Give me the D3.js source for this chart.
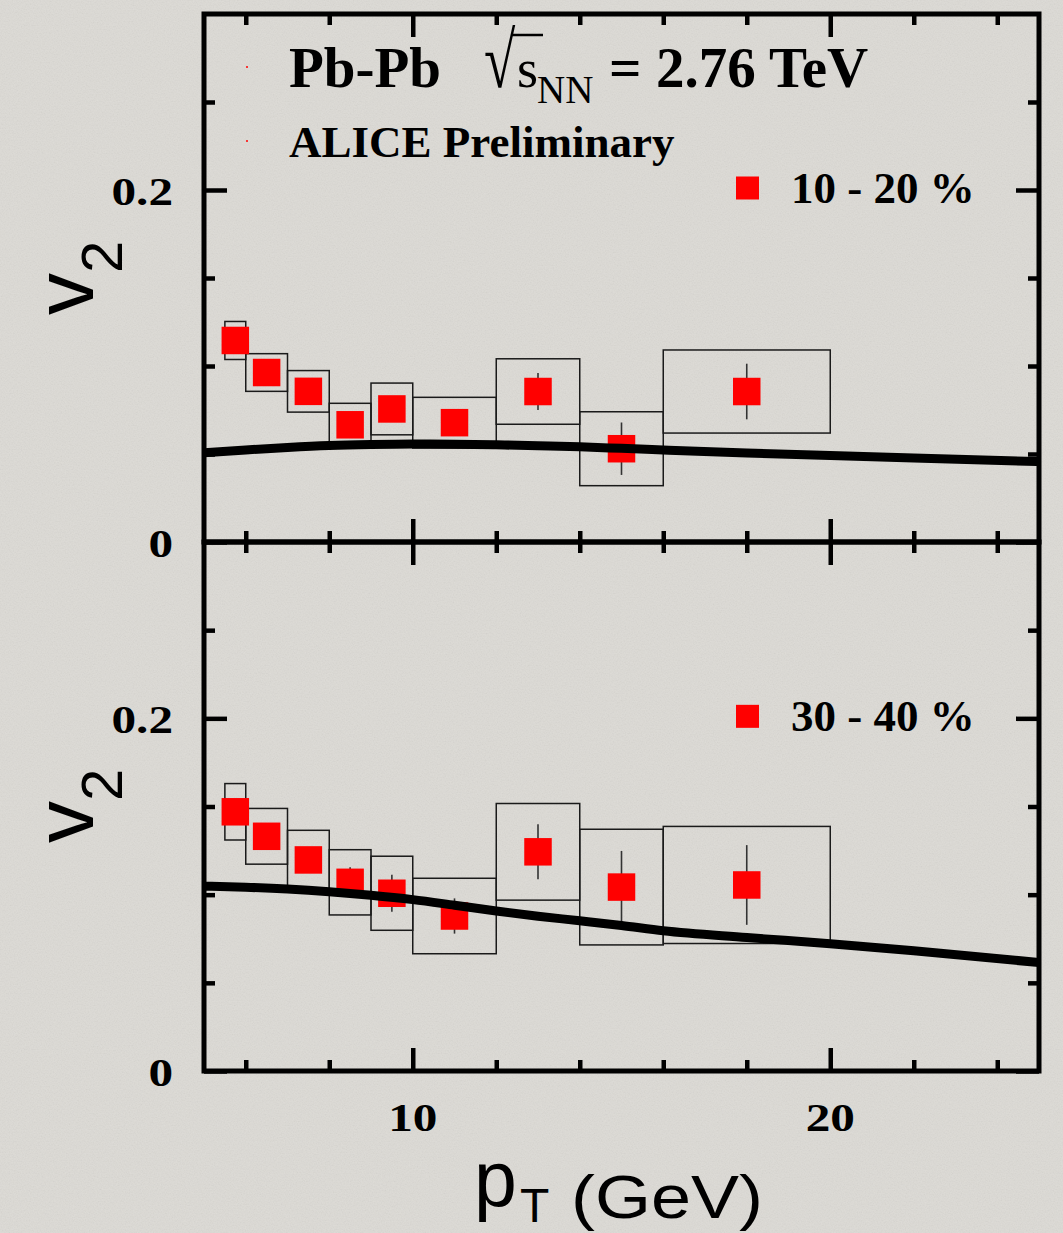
<!DOCTYPE html>
<html>
<head>
<meta charset="utf-8">
<script src="https://cdn.jsdelivr.net/npm/d3@7"></script>
<style>
  html, body { margin: 0; padding: 0; background: #dbd9d4; }
  svg { display: block; }
</style>
</head>
<body>
<script>
// pT bins of the measurement (GeV)
const ptCenters = [5.75, 6.5, 7.5, 8.5, 9.5, 11, 13, 15, 18];
const binLow    = [5.5, 6, 7, 8, 9, 10, 12, 14, 16];
const binHigh   = [6, 7, 8, 9, 10, 12, 14, 16, 20];

// v2, 10-20% centrality
const v2Central1020 = [0.1145, 0.0963, 0.0856, 0.0666, 0.0756, 0.0678, 0.0855, 0.0530, 0.0855];
const v2Stat1020    = [0.004, 0.004, 0.004, 0.005, 0.006, 0.006, 0.0105, 0.0149, 0.0158];
const v2Sys1020     = [0.0108, 0.0107, 0.0118, 0.0122, 0.0147, 0.0144, 0.0186, 0.0210, 0.0236];

// v2, 30-40% centrality
const v2Central3040 = [0.1470, 0.1331, 0.1197, 0.1070, 0.1008, 0.0879, 0.1243, 0.1043, 0.1055];
const v2Stat3040    = [0.005, 0.005, 0.005, 0.0085, 0.0105, 0.0100, 0.0156, 0.0205, 0.0226];
const v2Sys3040     = [0.0160, 0.0158, 0.0168, 0.0185, 0.0210, 0.0214, 0.0274, 0.0328, 0.0332];

// model curves
const modelPt   = [5, 6, 7, 8, 9, 10, 11, 12, 13, 14, 15, 16, 18, 20, 22, 25];
const model1020 = [0.0507, 0.0523, 0.0537, 0.0548, 0.0554, 0.0557, 0.0556, 0.0552, 0.0547, 0.0541, 0.0532, 0.0523, 0.0506, 0.0491, 0.0477, 0.0457];
const model3040 = [0.1048, 0.1042, 0.1032, 0.1017, 0.0997, 0.0972, 0.0940, 0.0907, 0.0878, 0.0852, 0.0825, 0.0795, 0.0757, 0.0722, 0.0682, 0.0615];

// axes
const xDomain = [5, 25];
const yDomain = [0, 0.3];
const xTickMajor = [10, 20];
const xTickMinor = [6, 8, 12, 14, 16, 18, 22, 24];
const xTickLabels = ["10", "20"];
const yTickMajor = [0, 0.2];
const yTickMinor = [0.05, 0.1, 0.15, 0.25];
const yTickLabels = ["0", "0.2"];

const centralityLabels = ["10 - 20 %", "30 - 40 %"];

// ---------------------------------------------------------------
const W = 1063, H = 1233;
const left = 204, right = 1039;
const panelTops = [14, 542];
const panelBottoms = [542, 1071];

const svg = d3.select("body").append("svg")
  .attr("width", W).attr("height", H);

const defs = svg.append("defs");
const grain = defs.append("filter").attr("id", "grain")
  .attr("x", 0).attr("y", 0).attr("width", "100%").attr("height", "100%");
grain.append("feTurbulence").attr("type", "fractalNoise")
  .attr("baseFrequency", "0.75").attr("numOctaves", 2).attr("seed", 7);
grain.append("feColorMatrix").attr("type", "matrix")
  .attr("values", "1 0 0 0 0  1 0 0 0 0  1 0 0 0 0  0 0 0 0 0.07");

svg.append("rect").attr("width", W).attr("height", H).attr("fill", "#dcdad5");
svg.append("rect").attr("width", W).attr("height", H).attr("filter", "url(#grain)");

const x = d3.scaleLinear().domain(xDomain).range([left, right]);

const serif = "'Liberation Serif', 'Times New Roman', serif";
const sans = "'Liberation Sans', Arial, sans-serif";

const panels = [
  { central: v2Central1020, stat: v2Stat1020, sys: v2Sys1020, model: model1020, label: centralityLabels[0] },
  { central: v2Central3040, stat: v2Stat3040, sys: v2Sys3040, model: model3040, label: centralityLabels[1] }
];

panels.forEach((p, i) => {
  const top = panelTops[i], bottom = panelBottoms[i];
  const y = d3.scaleLinear().domain(yDomain).range([bottom, top]);
  const g = svg.append("g");

  const clipId = "clip" + i;
  defs.append("clipPath").attr("id", clipId)
    .append("rect").attr("x", left).attr("y", top)
    .attr("width", right - left).attr("height", bottom - top);

  const plot = g.append("g").attr("clip-path", `url(#${clipId})`);

  // systematic boxes
  plot.selectAll("rect.sys").data(ptCenters).join("rect")
    .attr("class", "sys")
    .attr("x", (d, k) => x(binLow[k]))
    .attr("width", (d, k) => x(binHigh[k]) - x(binLow[k]))
    .attr("y", (d, k) => y(p.central[k] + p.sys[k]))
    .attr("height", (d, k) => y(p.central[k] - p.sys[k]) - y(p.central[k] + p.sys[k]))
    .attr("fill", "none").attr("stroke", "#1a1a1a").attr("stroke-width", 1.5);

  // statistical error bars
  plot.selectAll("line.stat").data(ptCenters).join("line")
    .attr("class", "stat")
    .attr("x1", d => x(d)).attr("x2", d => x(d))
    .attr("y1", (d, k) => y(p.central[k] + p.stat[k]))
    .attr("y2", (d, k) => y(p.central[k] - p.stat[k]))
    .attr("stroke", "#333").attr("stroke-width", 1.6);

  // data markers
  const ms = 27.5;
  plot.selectAll("rect.pt").data(ptCenters).join("rect")
    .attr("class", "pt")
    .attr("x", d => x(d) - ms / 2)
    .attr("y", (d, k) => y(p.central[k]) - ms / 2)
    .attr("width", ms).attr("height", ms)
    .attr("fill", "#ff0000");

  // model curve
  const line = d3.line()
    .x((d, k) => x(modelPt[k]))
    .y(d => y(d))
    .curve(d3.curveMonotoneX);
  plot.append("path").datum(p.model)
    .attr("d", line)
    .attr("fill", "none").attr("stroke", "#000").attr("stroke-width", 9);

  // ticks on all four sides, pointing inward
  const tickStyle = sel => {
    sel.select(".domain").remove();
    sel.selectAll(".tick line").attr("stroke", "#000").attr("stroke-width", 4.5);
  };
  const addX = (vals, len) => {
    g.append("g").attr("transform", `translate(0,${bottom})`)
      .call(d3.axisTop(x).tickValues(vals).tickSize(len).tickFormat("")).call(tickStyle);
    g.append("g").attr("transform", `translate(0,${top})`)
      .call(d3.axisBottom(x).tickValues(vals).tickSize(len).tickFormat("")).call(tickStyle);
  };
  const addY = (vals, len) => {
    g.append("g").attr("transform", `translate(${left},0)`)
      .call(d3.axisRight(y).tickValues(vals).tickSize(len).tickFormat("")).call(tickStyle);
    g.append("g").attr("transform", `translate(${right},0)`)
      .call(d3.axisLeft(y).tickValues(vals).tickSize(len).tickFormat("")).call(tickStyle);
  };
  addX(xTickMinor, 11);
  addX(xTickMajor, 23);
  addY(yTickMinor, 11);
  addY(yTickMajor, 23);

  // frame
  g.append("rect")
    .attr("x", left).attr("y", top)
    .attr("width", right - left).attr("height", bottom - top)
    .attr("fill", "none").attr("stroke", "#000").attr("stroke-width", 5);

  // y tick labels
  yTickMajor.forEach((v, k) => {
    g.append("text")
      .attr("transform", `translate(173,${y(v) + 14.5}) scale(1.2,1)`)
      .attr("text-anchor", "end")
      .attr("font-family", serif).attr("font-weight", "bold").attr("font-size", 41)
      .attr("fill", "#000")
      .text(yTickLabels[k]);
  });

  // y axis title v2
  const yt = g.append("text")
    .attr("transform", `translate(93,${top + 301}) rotate(-90)`)
    .attr("font-family", sans).attr("font-size", 84).attr("fill", "#000");
  yt.append("tspan").text("v");
  yt.append("tspan").attr("dy", 29).attr("font-size", 58).text("2");

  // legend
  const ly = y(0.2) - 2;
  g.append("rect")
    .attr("x", 736).attr("y", ly - 11.5).attr("width", 23).attr("height", 23)
    .attr("fill", "#ff0000");
  g.append("text")
    .attr("x", 791).attr("y", ly + 15)
    .attr("font-family", serif).attr("font-weight", "bold").attr("font-size", 45)
    .attr("fill", "#000")
    .text(p.label);

  // x tick labels under the lower panel
  if (i === panels.length - 1) {
    xTickMajor.forEach((v, k) => {
      svg.append("text")
        .attr("transform", `translate(${x(v)},1131) scale(1.2,1)`)
        .attr("text-anchor", "middle")
        .attr("font-family", serif).attr("font-weight", "bold").attr("font-size", 41)
        .attr("fill", "#000")
        .text(xTickLabels[k]);
    });
  }
});

// header text
const hdr = svg.append("g").attr("fill", "#000");
hdr.append("text").attr("x", 289).attr("y", 87)
  .attr("font-family", serif).attr("font-weight", "bold").attr("font-size", 57)
  .text("Pb-Pb");
// radical sign, stretched up to meet the bar over the s
hdr.append("text").attr("transform", "translate(484,87) scale(1,1.38)")
  .attr("font-family", serif).attr("font-size", 57)
  .text("\u221A");
hdr.append("line").attr("x1", 511).attr("x2", 543).attr("y1", 35).attr("y2", 35)
  .attr("stroke", "#000").attr("stroke-width", 2.5);
hdr.append("text").attr("x", 517).attr("y", 87)
  .attr("font-family", serif).attr("font-size", 54)
  .text("s");
hdr.append("text").attr("x", 537).attr("y", 103)
  .attr("font-family", serif).attr("font-size", 39)
  .text("NN");
hdr.append("text").attr("x", 609).attr("y", 87)
  .attr("font-family", serif).attr("font-weight", "bold").attr("font-size", 57)
  .text("=");
hdr.append("text").attr("x", 656).attr("y", 87)
  .attr("font-family", serif).attr("font-weight", "bold").attr("font-size", 57)
  .text("2.76 TeV");
hdr.append("text").attr("x", 289).attr("y", 157)
  .attr("font-family", serif).attr("font-weight", "bold").attr("font-size", 45)
  .text("ALICE Preliminary");
// tiny markers of the header entries
[67, 141].forEach(cy => {
  hdr.append("circle").attr("cx", 247).attr("cy", cy).attr("r", 1).attr("fill", "#ff0000");
});

// x axis title
const xt = svg.append("g").attr("fill", "#000").attr("font-family", sans);
xt.append("text").attr("x", 474).attr("y", 1206).attr("font-size", 77).text("p");
xt.append("text").attr("x", 520).attr("y", 1222).attr("font-size", 48).text("T");
xt.append("text").attr("transform", "translate(571,1218) scale(1.18,1)")
  .attr("font-size", 61).text("(GeV)");
</script>
</body>
</html>
